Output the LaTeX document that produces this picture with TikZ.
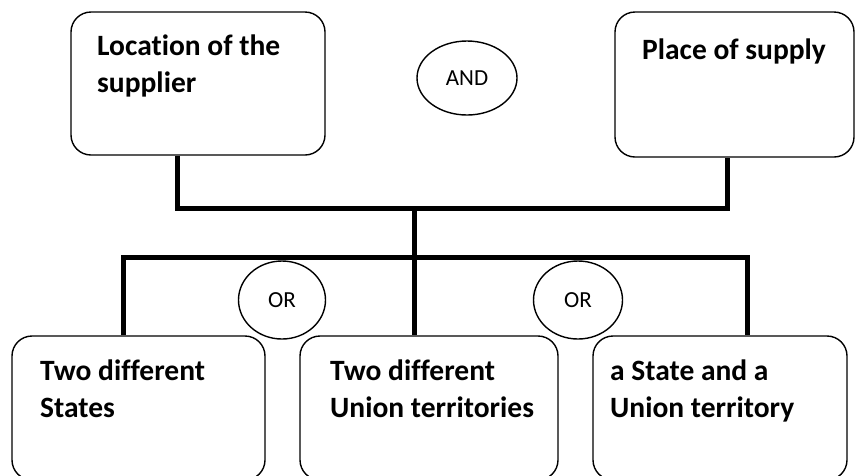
\documentclass[tikz,border=0pt]{standalone}
\usepackage{fontspec}
\setmainfont{Carlito}[Ligatures=NoCommon]
\usetikzlibrary{shapes.geometric}
\tikzset{box/.style={draw,line width=1.4pt,rounded corners=20pt,minimum height=144pt,inner sep=0pt},
  boxtext/.style={anchor=north west,inner sep=0pt,align=left,font=\fontsize{29.5}{37}\selectfont\bfseries},
  gate/.style={draw,line width=1.4pt,ellipse,inner sep=0pt,font=\fontsize{23}{27}\selectfont},
  bar/.style={line width=5pt}}

\begin{document}
\begin{tikzpicture}[x=1pt,y=-1pt]
      \useasboundingbox (0,0) rectangle (856,475);
      \clip (0,0) rectangle (856,475);
      \node[box,minimum width=254pt,minimum height=143pt] (loc) at (198,83.5) {};
      \node[box,minimum width=239pt,minimum height=145pt] (pos) at (734.5,84.5) {};
      \node[gate,minimum width=100pt,minimum height=74pt] (and) at (467,78) {AND};
      \node[box,minimum width=253pt] (st) at (138.5,408) {};
      \node[box,minimum width=258pt] (ut) at (429,408) {};
      \node[box,minimum width=254pt] (su) at (720,408) {};
      \node[gate,minimum width=87pt,minimum height=78pt] (or1) at (282,300) {OR};
      \node[gate,minimum width=89pt,minimum height=78pt] (or2) at (578,300) {OR};

      \node[boxtext] (loct) at (97,35) {Location of the\\supplier};
      \node[boxtext] (post) at (642,39) {Place of supply};
      \node[boxtext] (stt) at (40,360) {Two different\\States};
      \node[boxtext] (utt) at (330,360) {Two different\\Union territories};
      \node[boxtext] (sut) at (610,360) {a State and a\\Union territory};

      \coordinate (j1) at (177,208);
      \coordinate (j2) at (727,208);
      \coordinate (jm) at (414,208);
      \coordinate (b1) at (123,257);
      \coordinate (b3) at (747,257);

      \draw[bar] (loc.south -| j1) -- (j1) -- (j2) -- (pos.south -| j2);
      \draw[bar] (jm) -- (ut.north -| jm);
      \draw[bar] (st.north -| b1) -- (b1) -- (b3) -- (su.north -| b3);
    \end{tikzpicture}
\end{document}
